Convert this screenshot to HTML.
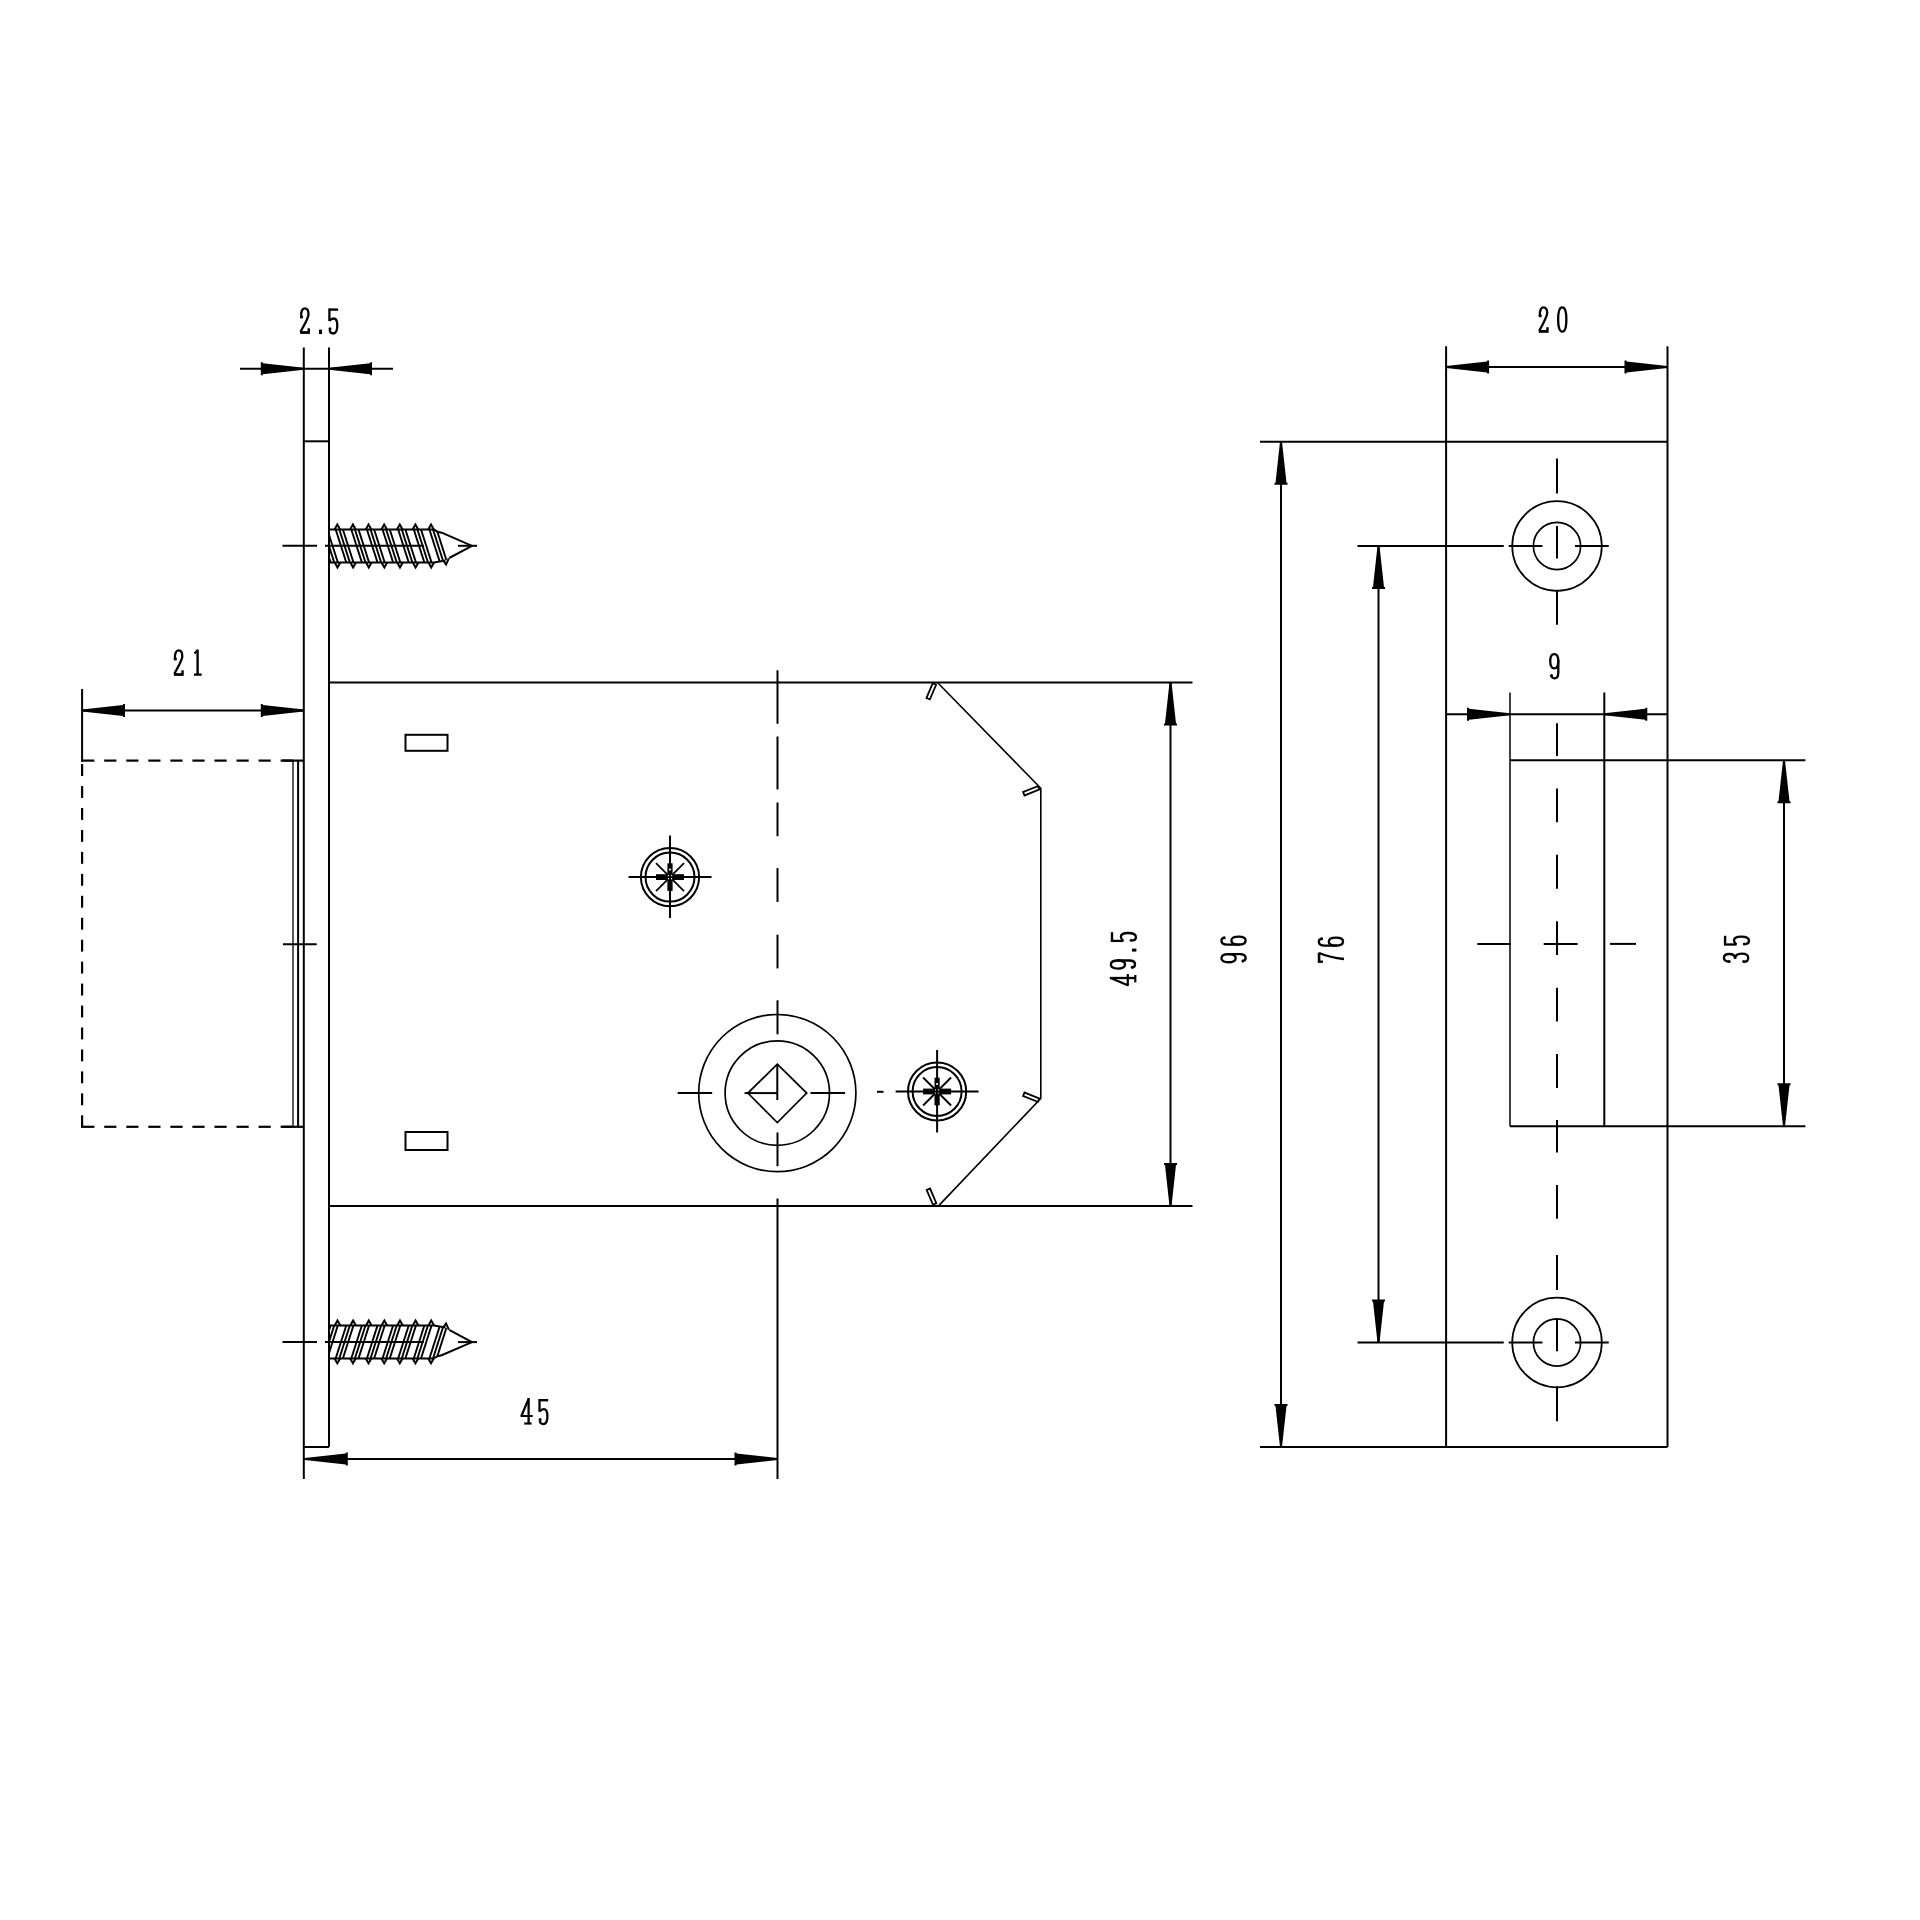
<!DOCTYPE html>
<html><head><meta charset="utf-8"><style>
html,body{margin:0;padding:0;background:#fff;font-family:"Liberation Sans", sans-serif;}
svg{display:block;}

</style></head><body>
<svg width="1920" height="1920" viewBox="0 0 1920 1920">
<rect width="1920" height="1920" fill="#fff"/>
<g stroke="#000" fill="none" stroke-linecap="butt">
<line x1="303.80" y1="347.50" x2="303.80" y2="1479.00" stroke-width="2"/>
<line x1="329.00" y1="347.50" x2="329.00" y2="1447.00" stroke-width="2"/>
<line x1="303.80" y1="441.30" x2="329.00" y2="441.30" stroke-width="2"/>
<line x1="303.80" y1="1447.00" x2="329.00" y2="1447.00" stroke-width="2"/>
<line x1="240.00" y1="368.80" x2="393.00" y2="368.80" stroke-width="2"/>
<polygon points="303.80,367.80 262.80,363.30 262.80,362.30 260.80,362.30 260.80,375.30 262.80,375.30 262.80,374.30 303.80,369.80" fill="#000" stroke="none"/>
<polygon points="329.00,369.80 370.00,374.30 370.00,375.30 372.00,375.30 372.00,362.30 370.00,362.30 370.00,363.30 329.00,367.80" fill="#000" stroke="none"/>
<line x1="329.00" y1="682.50" x2="1192.50" y2="682.50" stroke-width="2"/>
<line x1="329.00" y1="1206.10" x2="1192.50" y2="1206.10" stroke-width="2"/>
<path d="M937.5,682.5 L1040.8,788.3 L1040.8,1098.5 L938.3,1206.1" stroke-width="1.6" fill="none"/>
<rect x="-8.00" y="-1.85" width="16" height="3.7" transform="translate(931.30,691.30) rotate(-67)" stroke-width="1.8" fill="#fff"/>
<rect x="-8.00" y="-1.85" width="16" height="3.7" transform="translate(1031.20,790.80) rotate(-22)" stroke-width="1.8" fill="#fff"/>
<rect x="-8.00" y="-1.85" width="16" height="3.7" transform="translate(1031.20,1097.20) rotate(22)" stroke-width="1.8" fill="#fff"/>
<rect x="-8.00" y="-1.85" width="16" height="3.7" transform="translate(931.50,1196.60) rotate(67)" stroke-width="1.8" fill="#fff"/>
<rect x="405.50" y="734.80" width="42.00" height="16.00" stroke-width="2" fill="none"/>
<rect x="405.50" y="1132.00" width="42.00" height="18.00" stroke-width="2" fill="none"/>
<line x1="777.50" y1="670.30" x2="777.50" y2="723.75" stroke-width="2"/>
<line x1="777.50" y1="736.50" x2="777.50" y2="789.40" stroke-width="2"/>
<line x1="777.50" y1="802.50" x2="777.50" y2="836.25" stroke-width="2"/>
<line x1="777.50" y1="868.10" x2="777.50" y2="901.90" stroke-width="2"/>
<line x1="777.50" y1="934.70" x2="777.50" y2="968.40" stroke-width="2"/>
<line x1="777.50" y1="1000.30" x2="777.50" y2="1034.30" stroke-width="2"/>
<line x1="777.50" y1="1132.50" x2="777.50" y2="1166.20" stroke-width="2"/>
<line x1="777.50" y1="1198.40" x2="777.50" y2="1479.00" stroke-width="2"/>
<line x1="303.80" y1="1459.00" x2="777.50" y2="1459.00" stroke-width="2"/>
<polygon points="304.80,1460.00 345.80,1464.50 345.80,1465.50 347.80,1465.50 347.80,1452.50 345.80,1452.50 345.80,1453.50 304.80,1458.00" fill="#000" stroke="none"/>
<polygon points="777.50,1458.00 736.50,1453.50 736.50,1452.50 734.50,1452.50 734.50,1465.50 736.50,1465.50 736.50,1464.50 777.50,1460.00" fill="#000" stroke="none"/>
<line x1="1170.50" y1="682.50" x2="1170.50" y2="1206.10" stroke-width="2"/>
<polygon points="1169.50,682.50 1165.00,723.50 1164.00,723.50 1164.00,725.50 1177.00,725.50 1177.00,723.50 1176.00,723.50 1171.50,682.50" fill="#000" stroke="none"/>
<polygon points="1171.50,1206.10 1176.00,1165.10 1177.00,1165.10 1177.00,1163.10 1164.00,1163.10 1164.00,1165.10 1165.00,1165.10 1169.50,1206.10" fill="#000" stroke="none"/>
<line x1="82.10" y1="689.00" x2="82.10" y2="761.70" stroke-width="2"/>
<line x1="82.00" y1="710.50" x2="303.80" y2="710.50" stroke-width="2"/>
<polygon points="82.00,711.50 123.00,716.00 123.00,717.00 125.00,717.00 125.00,704.00 123.00,704.00 123.00,705.00 82.00,709.50" fill="#000" stroke="none"/>
<polygon points="303.80,709.50 262.80,705.00 262.80,704.00 260.80,704.00 260.80,717.00 262.80,717.00 262.80,716.00 303.80,711.50" fill="#000" stroke="none"/>
<line x1="81.00" y1="760.60" x2="94.40" y2="760.60" stroke-width="2.2"/>
<line x1="104.20" y1="760.60" x2="116.40" y2="760.60" stroke-width="2.2"/>
<line x1="126.25" y1="760.60" x2="138.45" y2="760.60" stroke-width="2.2"/>
<line x1="148.30" y1="760.60" x2="160.50" y2="760.60" stroke-width="2.2"/>
<line x1="170.35" y1="760.60" x2="182.55" y2="760.60" stroke-width="2.2"/>
<line x1="192.40" y1="760.60" x2="204.60" y2="760.60" stroke-width="2.2"/>
<line x1="214.45" y1="760.60" x2="226.65" y2="760.60" stroke-width="2.2"/>
<line x1="236.50" y1="760.60" x2="248.70" y2="760.60" stroke-width="2.2"/>
<line x1="258.55" y1="760.60" x2="270.75" y2="760.60" stroke-width="2.2"/>
<line x1="280.60" y1="760.60" x2="292.80" y2="760.60" stroke-width="2.2"/>
<line x1="282.00" y1="760.60" x2="303.80" y2="760.60" stroke-width="2.2"/>
<line x1="81.00" y1="1126.80" x2="94.40" y2="1126.80" stroke-width="2.2"/>
<line x1="104.20" y1="1126.80" x2="116.40" y2="1126.80" stroke-width="2.2"/>
<line x1="126.25" y1="1126.80" x2="138.45" y2="1126.80" stroke-width="2.2"/>
<line x1="148.30" y1="1126.80" x2="160.50" y2="1126.80" stroke-width="2.2"/>
<line x1="170.35" y1="1126.80" x2="182.55" y2="1126.80" stroke-width="2.2"/>
<line x1="192.40" y1="1126.80" x2="204.60" y2="1126.80" stroke-width="2.2"/>
<line x1="214.45" y1="1126.80" x2="226.65" y2="1126.80" stroke-width="2.2"/>
<line x1="236.50" y1="1126.80" x2="248.70" y2="1126.80" stroke-width="2.2"/>
<line x1="258.55" y1="1126.80" x2="270.75" y2="1126.80" stroke-width="2.2"/>
<line x1="280.60" y1="1126.80" x2="292.80" y2="1126.80" stroke-width="2.2"/>
<line x1="282.00" y1="1126.80" x2="303.80" y2="1126.80" stroke-width="2.2"/>
<line x1="82.10" y1="764.10" x2="82.10" y2="776.00" stroke-width="2.2"/>
<line x1="82.10" y1="786.05" x2="82.10" y2="797.95" stroke-width="2.2"/>
<line x1="82.10" y1="808.00" x2="82.10" y2="819.90" stroke-width="2.2"/>
<line x1="82.10" y1="829.95" x2="82.10" y2="841.85" stroke-width="2.2"/>
<line x1="82.10" y1="851.90" x2="82.10" y2="863.80" stroke-width="2.2"/>
<line x1="82.10" y1="873.85" x2="82.10" y2="885.75" stroke-width="2.2"/>
<line x1="82.10" y1="895.80" x2="82.10" y2="907.70" stroke-width="2.2"/>
<line x1="82.10" y1="917.75" x2="82.10" y2="929.65" stroke-width="2.2"/>
<line x1="82.10" y1="939.70" x2="82.10" y2="951.60" stroke-width="2.2"/>
<line x1="82.10" y1="961.65" x2="82.10" y2="973.55" stroke-width="2.2"/>
<line x1="82.10" y1="983.60" x2="82.10" y2="995.50" stroke-width="2.2"/>
<line x1="82.10" y1="1005.55" x2="82.10" y2="1017.45" stroke-width="2.2"/>
<line x1="82.10" y1="1027.50" x2="82.10" y2="1039.40" stroke-width="2.2"/>
<line x1="82.10" y1="1049.45" x2="82.10" y2="1061.35" stroke-width="2.2"/>
<line x1="82.10" y1="1071.40" x2="82.10" y2="1083.30" stroke-width="2.2"/>
<line x1="82.10" y1="1093.35" x2="82.10" y2="1105.25" stroke-width="2.2"/>
<line x1="82.10" y1="1115.30" x2="82.10" y2="1127.20" stroke-width="2.2"/>
<line x1="293.00" y1="760.50" x2="293.00" y2="1126.80" stroke-width="1.3"/>
<line x1="298.10" y1="760.50" x2="298.10" y2="1126.80" stroke-width="2"/>
<line x1="283.00" y1="944.20" x2="316.70" y2="944.20" stroke-width="2"/>
<circle cx="670.00" cy="877.10" r="29.10" stroke-width="2" fill="none"/>
<circle cx="670.00" cy="877.10" r="24.50" stroke-width="2" fill="none"/>
<line x1="628.50" y1="877.10" x2="711.50" y2="877.10" stroke-width="2"/>
<line x1="670.00" y1="835.60" x2="670.00" y2="918.10" stroke-width="2"/>
<line x1="656.00" y1="863.10" x2="684.00" y2="891.10" stroke-width="1.8"/>
<line x1="684.00" y1="863.10" x2="656.00" y2="891.10" stroke-width="1.8"/>
<rect x="656.00" y="874.20" width="28" height="5.8" fill="#000" stroke="none"/>
<rect x="667.40" y="863.30" width="5.2" height="27.6" fill="#000" stroke="none"/>
<circle cx="668.40" cy="875.50" r="0.7" fill="#fff" stroke="none"/>
<circle cx="671.60" cy="875.50" r="0.7" fill="#fff" stroke="none"/>
<circle cx="668.40" cy="878.70" r="0.7" fill="#fff" stroke="none"/>
<circle cx="671.60" cy="878.70" r="0.7" fill="#fff" stroke="none"/>
<circle cx="670.00" cy="869.60" r="1.1" fill="#fff" stroke="none"/>
<circle cx="937.10" cy="1091.50" r="29.10" stroke-width="2" fill="none"/>
<circle cx="937.10" cy="1091.50" r="24.50" stroke-width="2" fill="none"/>
<line x1="895.60" y1="1091.50" x2="978.60" y2="1091.50" stroke-width="2"/>
<line x1="937.10" y1="1050.00" x2="937.10" y2="1132.50" stroke-width="2"/>
<line x1="923.10" y1="1077.50" x2="951.10" y2="1105.50" stroke-width="1.8"/>
<line x1="951.10" y1="1077.50" x2="923.10" y2="1105.50" stroke-width="1.8"/>
<rect x="923.10" y="1088.60" width="28" height="5.8" fill="#000" stroke="none"/>
<rect x="934.50" y="1077.70" width="5.2" height="27.6" fill="#000" stroke="none"/>
<circle cx="935.50" cy="1089.90" r="0.7" fill="#fff" stroke="none"/>
<circle cx="938.70" cy="1089.90" r="0.7" fill="#fff" stroke="none"/>
<circle cx="935.50" cy="1093.10" r="0.7" fill="#fff" stroke="none"/>
<circle cx="938.70" cy="1093.10" r="0.7" fill="#fff" stroke="none"/>
<circle cx="937.10" cy="1084.00" r="1.1" fill="#fff" stroke="none"/>
<line x1="877.00" y1="1091.80" x2="883.50" y2="1091.80" stroke-width="2"/>
<circle cx="777.30" cy="1093.10" r="78.60" stroke-width="1.7" fill="none"/>
<circle cx="777.30" cy="1093.10" r="52.20" stroke-width="1.7" fill="none"/>
<path d="M777.3,1064.1 L806.6999999999999,1093.1 L777.3,1122.5 L747.9,1093.1 Z" stroke-width="1.7" fill="none"/>
<line x1="777.30" y1="1064.10" x2="777.30" y2="1100.10" stroke-width="2"/>
<line x1="747.90" y1="1093.10" x2="777.30" y2="1093.10" stroke-width="2"/>
<line x1="677.70" y1="1093.10" x2="712.20" y2="1093.10" stroke-width="2"/>
<line x1="744.60" y1="1093.10" x2="748.00" y2="1093.10" stroke-width="2"/>
<line x1="810.50" y1="1093.10" x2="845.00" y2="1093.10" stroke-width="2"/>
<line x1="329.00" y1="529.40" x2="433.60" y2="529.40" stroke-width="2"/>
<path d="M334.50,529.40 L337.30,524.60 L340.10,529.40" stroke-width="2" fill="none"/>
<path d="M350.12,529.40 L352.92,524.60 L355.72,529.40" stroke-width="2" fill="none"/>
<path d="M365.74,529.40 L368.54,524.60 L371.34,529.40" stroke-width="2" fill="none"/>
<path d="M381.36,529.40 L384.16,524.60 L386.96,529.40" stroke-width="2" fill="none"/>
<path d="M396.98,529.40 L399.78,524.60 L402.58,529.40" stroke-width="2" fill="none"/>
<path d="M412.60,529.40 L415.40,524.60 L418.20,529.40" stroke-width="2" fill="none"/>
<path d="M428.22,529.40 L431.02,524.60 L433.82,529.40" stroke-width="2" fill="none"/>
<path d="M433.6,529.40 L437.5,531.70 L441.7,532.70 L472,545.80" stroke-width="2" fill="none"/>
<line x1="329.00" y1="562.40" x2="434.00" y2="562.40" stroke-width="2"/>
<path d="M434,562.40 L445.4,560.50" stroke-width="2" fill="none"/>
<path d="M334.70,562.40 L337.50,567.40 L340.30,562.40" stroke-width="2" fill="none"/>
<path d="M350.32,562.40 L353.12,567.40 L355.92,562.40" stroke-width="2" fill="none"/>
<path d="M365.94,562.40 L368.74,567.40 L371.54,562.40" stroke-width="2" fill="none"/>
<path d="M381.56,562.40 L384.36,567.40 L387.16,562.40" stroke-width="2" fill="none"/>
<path d="M397.18,562.40 L399.98,567.40 L402.78,562.40" stroke-width="2" fill="none"/>
<path d="M412.80,562.40 L415.60,567.40 L418.40,562.40" stroke-width="2" fill="none"/>
<path d="M428.42,562.40 L431.22,567.40 L434.02,562.40" stroke-width="2" fill="none"/>
<path d="M443.24,560.50 L446.04,564.40 L448.84,558.30" stroke-width="2" fill="none"/>
<path d="M449.2,558.00 L472,545.80" stroke-width="2" fill="none"/>
<clipPath id="c545"><polygon points="329.0,529.40 433.6,529.40 437.5,531.70 441.7,532.70 449.2,558.00 445.4,560.50 434,562.40 329.0,562.40"/></clipPath>
<g clip-path="url(#c545)">
<line x1="319.74" y1="528.40" x2="330.94" y2="563.40" stroke-width="1.9"/>
<line x1="323.34" y1="528.40" x2="334.54" y2="563.40" stroke-width="1.9"/>
<line x1="326.94" y1="528.40" x2="338.14" y2="563.40" stroke-width="1.9"/>
<line x1="335.36" y1="528.40" x2="346.56" y2="563.40" stroke-width="1.9"/>
<line x1="338.96" y1="528.40" x2="350.16" y2="563.40" stroke-width="1.9"/>
<line x1="342.56" y1="528.40" x2="353.76" y2="563.40" stroke-width="1.9"/>
<line x1="350.98" y1="528.40" x2="362.18" y2="563.40" stroke-width="1.9"/>
<line x1="354.58" y1="528.40" x2="365.78" y2="563.40" stroke-width="1.9"/>
<line x1="358.18" y1="528.40" x2="369.38" y2="563.40" stroke-width="1.9"/>
<line x1="366.60" y1="528.40" x2="377.80" y2="563.40" stroke-width="1.9"/>
<line x1="370.20" y1="528.40" x2="381.40" y2="563.40" stroke-width="1.9"/>
<line x1="373.80" y1="528.40" x2="385.00" y2="563.40" stroke-width="1.9"/>
<line x1="382.22" y1="528.40" x2="393.42" y2="563.40" stroke-width="1.9"/>
<line x1="385.82" y1="528.40" x2="397.02" y2="563.40" stroke-width="1.9"/>
<line x1="389.42" y1="528.40" x2="400.62" y2="563.40" stroke-width="1.9"/>
<line x1="397.84" y1="528.40" x2="409.04" y2="563.40" stroke-width="1.9"/>
<line x1="401.44" y1="528.40" x2="412.64" y2="563.40" stroke-width="1.9"/>
<line x1="405.04" y1="528.40" x2="416.24" y2="563.40" stroke-width="1.9"/>
<line x1="413.46" y1="528.40" x2="424.66" y2="563.40" stroke-width="1.9"/>
<line x1="417.06" y1="528.40" x2="428.26" y2="563.40" stroke-width="1.9"/>
<line x1="420.66" y1="528.40" x2="431.86" y2="563.40" stroke-width="1.9"/>
<line x1="429.08" y1="528.40" x2="440.28" y2="563.40" stroke-width="1.9"/>
<line x1="432.68" y1="528.40" x2="443.88" y2="563.40" stroke-width="1.9"/>
<line x1="436.28" y1="528.40" x2="447.48" y2="563.40" stroke-width="1.9"/>
<line x1="444.70" y1="528.40" x2="455.90" y2="563.40" stroke-width="1.9"/>
<line x1="448.30" y1="528.40" x2="459.50" y2="563.40" stroke-width="1.9"/>
<line x1="451.90" y1="528.40" x2="463.10" y2="563.40" stroke-width="1.9"/>
</g>
<line x1="282.50" y1="545.80" x2="317.00" y2="545.80" stroke-width="2"/>
<line x1="325.00" y1="545.80" x2="423.75" y2="545.80" stroke-width="2"/>
<line x1="458.00" y1="545.80" x2="477.00" y2="545.80" stroke-width="2"/>
<line x1="329.00" y1="1358.50" x2="433.60" y2="1358.50" stroke-width="2"/>
<path d="M334.50,1358.50 L337.30,1363.30 L340.10,1358.50" stroke-width="2" fill="none"/>
<path d="M350.12,1358.50 L352.92,1363.30 L355.72,1358.50" stroke-width="2" fill="none"/>
<path d="M365.74,1358.50 L368.54,1363.30 L371.34,1358.50" stroke-width="2" fill="none"/>
<path d="M381.36,1358.50 L384.16,1363.30 L386.96,1358.50" stroke-width="2" fill="none"/>
<path d="M396.98,1358.50 L399.78,1363.30 L402.58,1358.50" stroke-width="2" fill="none"/>
<path d="M412.60,1358.50 L415.40,1363.30 L418.20,1358.50" stroke-width="2" fill="none"/>
<path d="M428.22,1358.50 L431.02,1363.30 L433.82,1358.50" stroke-width="2" fill="none"/>
<path d="M433.6,1358.50 L437.5,1356.20 L441.7,1355.20 L472,1342.10" stroke-width="2" fill="none"/>
<line x1="329.00" y1="1325.50" x2="434.00" y2="1325.50" stroke-width="2"/>
<path d="M434,1325.50 L445.4,1327.40" stroke-width="2" fill="none"/>
<path d="M334.70,1325.50 L337.50,1320.50 L340.30,1325.50" stroke-width="2" fill="none"/>
<path d="M350.32,1325.50 L353.12,1320.50 L355.92,1325.50" stroke-width="2" fill="none"/>
<path d="M365.94,1325.50 L368.74,1320.50 L371.54,1325.50" stroke-width="2" fill="none"/>
<path d="M381.56,1325.50 L384.36,1320.50 L387.16,1325.50" stroke-width="2" fill="none"/>
<path d="M397.18,1325.50 L399.98,1320.50 L402.78,1325.50" stroke-width="2" fill="none"/>
<path d="M412.80,1325.50 L415.60,1320.50 L418.40,1325.50" stroke-width="2" fill="none"/>
<path d="M428.42,1325.50 L431.22,1320.50 L434.02,1325.50" stroke-width="2" fill="none"/>
<path d="M443.24,1327.40 L446.04,1323.50 L448.84,1329.60" stroke-width="2" fill="none"/>
<path d="M449.2,1329.90 L472,1342.10" stroke-width="2" fill="none"/>
<clipPath id="c1342"><polygon points="329.0,1358.50 433.6,1358.50 437.5,1356.20 441.7,1355.20 449.2,1329.90 445.4,1327.40 434,1325.50 329.0,1325.50"/></clipPath>
<g clip-path="url(#c1342)">
<line x1="319.74" y1="1359.50" x2="330.94" y2="1324.50" stroke-width="1.9"/>
<line x1="323.34" y1="1359.50" x2="334.54" y2="1324.50" stroke-width="1.9"/>
<line x1="326.94" y1="1359.50" x2="338.14" y2="1324.50" stroke-width="1.9"/>
<line x1="335.36" y1="1359.50" x2="346.56" y2="1324.50" stroke-width="1.9"/>
<line x1="338.96" y1="1359.50" x2="350.16" y2="1324.50" stroke-width="1.9"/>
<line x1="342.56" y1="1359.50" x2="353.76" y2="1324.50" stroke-width="1.9"/>
<line x1="350.98" y1="1359.50" x2="362.18" y2="1324.50" stroke-width="1.9"/>
<line x1="354.58" y1="1359.50" x2="365.78" y2="1324.50" stroke-width="1.9"/>
<line x1="358.18" y1="1359.50" x2="369.38" y2="1324.50" stroke-width="1.9"/>
<line x1="366.60" y1="1359.50" x2="377.80" y2="1324.50" stroke-width="1.9"/>
<line x1="370.20" y1="1359.50" x2="381.40" y2="1324.50" stroke-width="1.9"/>
<line x1="373.80" y1="1359.50" x2="385.00" y2="1324.50" stroke-width="1.9"/>
<line x1="382.22" y1="1359.50" x2="393.42" y2="1324.50" stroke-width="1.9"/>
<line x1="385.82" y1="1359.50" x2="397.02" y2="1324.50" stroke-width="1.9"/>
<line x1="389.42" y1="1359.50" x2="400.62" y2="1324.50" stroke-width="1.9"/>
<line x1="397.84" y1="1359.50" x2="409.04" y2="1324.50" stroke-width="1.9"/>
<line x1="401.44" y1="1359.50" x2="412.64" y2="1324.50" stroke-width="1.9"/>
<line x1="405.04" y1="1359.50" x2="416.24" y2="1324.50" stroke-width="1.9"/>
<line x1="413.46" y1="1359.50" x2="424.66" y2="1324.50" stroke-width="1.9"/>
<line x1="417.06" y1="1359.50" x2="428.26" y2="1324.50" stroke-width="1.9"/>
<line x1="420.66" y1="1359.50" x2="431.86" y2="1324.50" stroke-width="1.9"/>
<line x1="429.08" y1="1359.50" x2="440.28" y2="1324.50" stroke-width="1.9"/>
<line x1="432.68" y1="1359.50" x2="443.88" y2="1324.50" stroke-width="1.9"/>
<line x1="436.28" y1="1359.50" x2="447.48" y2="1324.50" stroke-width="1.9"/>
<line x1="444.70" y1="1359.50" x2="455.90" y2="1324.50" stroke-width="1.9"/>
<line x1="448.30" y1="1359.50" x2="459.50" y2="1324.50" stroke-width="1.9"/>
<line x1="451.90" y1="1359.50" x2="463.10" y2="1324.50" stroke-width="1.9"/>
</g>
<line x1="282.50" y1="1342.10" x2="317.00" y2="1342.10" stroke-width="2"/>
<line x1="325.00" y1="1342.10" x2="423.75" y2="1342.10" stroke-width="2"/>
<line x1="458.00" y1="1342.10" x2="477.00" y2="1342.10" stroke-width="2"/>
<line x1="1446.10" y1="346.30" x2="1446.10" y2="1447.00" stroke-width="2"/>
<line x1="1667.50" y1="346.30" x2="1667.50" y2="1447.00" stroke-width="2"/>
<line x1="1260.00" y1="441.70" x2="1667.50" y2="441.70" stroke-width="2"/>
<line x1="1260.00" y1="1447.00" x2="1667.50" y2="1447.00" stroke-width="2"/>
<line x1="1446.10" y1="367.00" x2="1667.50" y2="367.00" stroke-width="2"/>
<polygon points="1446.10,368.00 1487.10,372.50 1487.10,373.50 1489.10,373.50 1489.10,360.50 1487.10,360.50 1487.10,361.50 1446.10,366.00" fill="#000" stroke="none"/>
<polygon points="1667.50,366.00 1626.50,361.50 1626.50,360.50 1624.50,360.50 1624.50,373.50 1626.50,373.50 1626.50,372.50 1667.50,368.00" fill="#000" stroke="none"/>
<line x1="1281.00" y1="441.70" x2="1281.00" y2="1447.00" stroke-width="2"/>
<polygon points="1280.00,441.70 1275.50,482.70 1274.50,482.70 1274.50,484.70 1287.50,484.70 1287.50,482.70 1286.50,482.70 1282.00,441.70" fill="#000" stroke="none"/>
<polygon points="1282.00,1447.00 1286.50,1406.00 1287.50,1406.00 1287.50,1404.00 1274.50,1404.00 1274.50,1406.00 1275.50,1406.00 1280.00,1447.00" fill="#000" stroke="none"/>
<line x1="1357.50" y1="546.00" x2="1503.75" y2="546.00" stroke-width="2"/>
<line x1="1357.50" y1="1342.50" x2="1503.75" y2="1342.50" stroke-width="2"/>
<line x1="1378.50" y1="546.00" x2="1378.50" y2="1342.50" stroke-width="2"/>
<polygon points="1377.50,546.00 1373.00,587.00 1372.00,587.00 1372.00,589.00 1385.00,589.00 1385.00,587.00 1384.00,587.00 1379.50,546.00" fill="#000" stroke="none"/>
<polygon points="1379.50,1342.50 1384.00,1301.50 1385.00,1301.50 1385.00,1299.50 1372.00,1299.50 1372.00,1301.50 1373.00,1301.50 1377.50,1342.50" fill="#000" stroke="none"/>
<circle cx="1557.00" cy="546.00" r="44.80" stroke-width="1.7" fill="none"/>
<circle cx="1557.00" cy="546.00" r="23.60" stroke-width="1.7" fill="none"/>
<line x1="1508.75" y1="546.00" x2="1542.50" y2="546.00" stroke-width="2"/>
<line x1="1575.00" y1="546.00" x2="1608.75" y2="546.00" stroke-width="2"/>
<line x1="1557.00" y1="526.00" x2="1557.00" y2="558.50" stroke-width="2"/>
<line x1="1557.00" y1="458.50" x2="1557.00" y2="493.50" stroke-width="2"/>
<line x1="1557.00" y1="589.70" x2="1557.00" y2="624.70" stroke-width="2"/>
<circle cx="1557.00" cy="1342.50" r="44.80" stroke-width="1.7" fill="none"/>
<circle cx="1557.00" cy="1342.50" r="23.60" stroke-width="1.7" fill="none"/>
<line x1="1508.75" y1="1342.50" x2="1542.50" y2="1342.50" stroke-width="2"/>
<line x1="1575.00" y1="1342.50" x2="1608.75" y2="1342.50" stroke-width="2"/>
<line x1="1557.00" y1="1318.50" x2="1557.00" y2="1351.30" stroke-width="2"/>
<line x1="1557.00" y1="1255.00" x2="1557.00" y2="1290.00" stroke-width="2"/>
<line x1="1557.00" y1="1386.20" x2="1557.00" y2="1421.20" stroke-width="2"/>
<line x1="1446.10" y1="714.25" x2="1667.50" y2="714.25" stroke-width="2"/>
<line x1="1510.00" y1="692.50" x2="1510.00" y2="1126.20" stroke-width="1.5"/>
<line x1="1604.30" y1="692.50" x2="1604.30" y2="1126.20" stroke-width="2"/>
<polygon points="1510.00,713.25 1469.00,708.75 1469.00,707.75 1467.00,707.75 1467.00,720.75 1469.00,720.75 1469.00,719.75 1510.00,715.25" fill="#000" stroke="none"/>
<polygon points="1604.30,715.25 1645.30,719.75 1645.30,720.75 1647.30,720.75 1647.30,707.75 1645.30,707.75 1645.30,708.75 1604.30,713.25" fill="#000" stroke="none"/>
<line x1="1510.00" y1="760.30" x2="1805.40" y2="760.30" stroke-width="2"/>
<line x1="1510.00" y1="1126.20" x2="1805.40" y2="1126.20" stroke-width="2"/>
<line x1="1784.00" y1="760.30" x2="1784.00" y2="1126.20" stroke-width="2"/>
<polygon points="1783.00,760.30 1778.50,801.30 1777.50,801.30 1777.50,803.30 1790.50,803.30 1790.50,801.30 1789.50,801.30 1785.00,760.30" fill="#000" stroke="none"/>
<polygon points="1785.00,1126.20 1789.50,1085.20 1790.50,1085.20 1790.50,1083.20 1777.50,1083.20 1777.50,1085.20 1778.50,1085.20 1783.00,1126.20" fill="#000" stroke="none"/>
<line x1="1477.30" y1="943.90" x2="1511.00" y2="943.90" stroke-width="2"/>
<line x1="1543.70" y1="943.90" x2="1577.60" y2="943.90" stroke-width="2"/>
<line x1="1610.00" y1="943.90" x2="1636.00" y2="943.90" stroke-width="2"/>
<line x1="1557.00" y1="723.30" x2="1557.00" y2="755.90" stroke-width="2"/>
<line x1="1557.00" y1="788.40" x2="1557.00" y2="822.30" stroke-width="2"/>
<line x1="1557.00" y1="854.80" x2="1557.00" y2="888.70" stroke-width="2"/>
<line x1="1557.00" y1="921.25" x2="1557.00" y2="955.10" stroke-width="2"/>
<line x1="1557.00" y1="987.70" x2="1557.00" y2="1021.50" stroke-width="2"/>
<line x1="1557.00" y1="1054.00" x2="1557.00" y2="1088.00" stroke-width="2"/>
<line x1="1557.00" y1="1120.00" x2="1557.00" y2="1152.50" stroke-width="2"/>
<line x1="1557.00" y1="1185.00" x2="1557.00" y2="1218.75" stroke-width="2"/>
</g>
<g stroke="#000" fill="none" stroke-linejoin="round" stroke-linecap="butt">
<g aria-label="2.5" role="img"><title>2.5</title>
<g transform="translate(299.20,307.30)"><path d="M2.0,9.8 C1.5,4 3.3,1.15 5.5,1.15 C7.9,1.15 9.3,3.3 9.3,6.9 C9.3,10.6 7.2,13.6 1.3,24.6" stroke-width="2.3"/><circle cx="2.3" cy="9.6" r="1.7" fill="#000" stroke="none"/><path d="M0.9,25.2 L9.7,25.2" stroke-width="2.8"/><path d="M9.55,26.5 L9.55,21.0" stroke-width="2.4"/></g>
<g transform="translate(319.00,307.30)"><rect x="0.0" y="22.3" width="3.0" height="4.4" fill="#000" stroke="none"/></g>
<g transform="translate(328.30,307.30)"><path d="M1.1,2.3 L9.8,2.3" stroke-width="2.4"/><path d="M1.1,1.1 L1.1,13.8" stroke-width="2.3"/><path d="M1.1,13.6 C2.5,11.8 3.9,11.2 5.3,11.2 C7.9,11.2 9.0,14 9.0,18.3 C9.0,23.3 7.3,26.2 4.8,26.2 C2.8,26.2 1.6,24.6 1.4,22.6" stroke-width="2.3"/><circle cx="1.7" cy="21.5" r="1.5" fill="#000" stroke="none"/></g>
</g>
<g aria-label="21" role="img"><title>21</title>
<g transform="translate(173.00,649.30)"><path d="M2.0,9.8 C1.5,4 3.3,1.15 5.5,1.15 C7.9,1.15 9.3,3.3 9.3,6.9 C9.3,10.6 7.2,13.6 1.3,24.6" stroke-width="2.3"/><circle cx="2.3" cy="9.6" r="1.7" fill="#000" stroke="none"/><path d="M0.9,25.2 L9.7,25.2" stroke-width="2.8"/><path d="M9.55,26.5 L9.55,21.0" stroke-width="2.4"/></g>
<g transform="translate(193.90,649.30)"><path d="M0.6,4.2 L3.7,0.9" stroke-width="2.1"/><path d="M3.7,0.2 L3.7,25" stroke-width="2.4"/><path d="M0.1,25.3 L7.8,25.3" stroke-width="2.3"/></g>
</g>
<g aria-label="45" role="img"><title>45</title>
<g transform="translate(520.70,1397.90)"><path d="M7.9,0.9 L0.7,18.1 L12,18.1" stroke-width="2.2"/><path d="M7.9,0.1 L7.9,25.5" stroke-width="2.3"/><path d="M3.5,25.6 L10.9,25.6" stroke-width="2.2"/></g>
<g transform="translate(538.40,1397.90)"><path d="M1.1,2.3 L9.8,2.3" stroke-width="2.4"/><path d="M1.1,1.1 L1.1,13.8" stroke-width="2.3"/><path d="M1.1,13.6 C2.5,11.8 3.9,11.2 5.3,11.2 C7.9,11.2 9.0,14 9.0,18.3 C9.0,23.3 7.3,26.2 4.8,26.2 C2.8,26.2 1.6,24.6 1.4,22.6" stroke-width="2.3"/><circle cx="1.7" cy="21.5" r="1.5" fill="#000" stroke="none"/></g>
</g>
<g aria-label="20" role="img"><title>20</title>
<g transform="translate(1537.90,306.20)"><path d="M2.0,9.8 C1.5,4 3.3,1.15 5.5,1.15 C7.9,1.15 9.3,3.3 9.3,6.9 C9.3,10.6 7.2,13.6 1.3,24.6" stroke-width="2.3"/><circle cx="2.3" cy="9.6" r="1.7" fill="#000" stroke="none"/><path d="M0.9,25.2 L9.7,25.2" stroke-width="2.8"/><path d="M9.55,26.5 L9.55,21.0" stroke-width="2.4"/></g>
<g transform="translate(1557.00,306.20)"><path d="M5.25,1.15 C8.2,1.15 9.35,6 9.35,13.25 C9.35,20.5 8.2,25.35 5.25,25.35 C2.3,25.35 1.15,20.5 1.15,13.25 C1.15,6 2.3,1.15 5.25,1.15 Z" stroke-width="2.3"/></g>
</g>
<g aria-label="9" role="img"><title>9</title>
<g transform="translate(1549.10,653.00)"><path d="M5.1,1.15 C7.6,1.15 9.2,3.6 9.2,8.2 C9.2,12.6 7.6,15.4 5.1,15.4 C2.6,15.4 1.15,12.6 1.15,8.2 C1.15,3.6 2.6,1.15 5.1,1.15 Z" stroke-width="2.3"/><path d="M9.2,7 L9.2,19.5 C9.2,23.4 7.6,25.35 5.3,25.35 C3.5,25.35 2.4,24 2.2,22" stroke-width="2.3"/><circle cx="2.4" cy="22.6" r="1.5" fill="#000" stroke="none"/></g>
</g>
<g aria-label="49.5" role="img"><title>49.5</title>
<g transform="translate(1109.70,985.90) rotate(-90)"><path d="M7.9,0.9 L0.7,18.1 L12,18.1" stroke-width="2.2"/><path d="M7.9,0.1 L7.9,25.5" stroke-width="2.3"/><path d="M3.5,25.6 L10.9,25.6" stroke-width="2.2"/></g>
<g transform="translate(1109.70,969.70) rotate(-90)"><path d="M5.1,1.15 C7.6,1.15 9.2,3.6 9.2,8.2 C9.2,12.6 7.6,15.4 5.1,15.4 C2.6,15.4 1.15,12.6 1.15,8.2 C1.15,3.6 2.6,1.15 5.1,1.15 Z" stroke-width="2.3"/><path d="M9.2,7 L9.2,19.5 C9.2,23.4 7.6,25.35 5.3,25.35 C3.5,25.35 2.4,24 2.2,22" stroke-width="2.3"/><circle cx="2.4" cy="22.6" r="1.5" fill="#000" stroke="none"/></g>
<g transform="translate(1109.70,951.60) rotate(-90)"><rect x="0.0" y="22.3" width="3.0" height="4.4" fill="#000" stroke="none"/></g>
<g transform="translate(1109.70,942.00) rotate(-90)"><path d="M1.1,2.3 L9.8,2.3" stroke-width="2.4"/><path d="M1.1,1.1 L1.1,13.8" stroke-width="2.3"/><path d="M1.1,13.6 C2.5,11.8 3.9,11.2 5.3,11.2 C7.9,11.2 9.0,14 9.0,18.3 C9.0,23.3 7.3,26.2 4.8,26.2 C2.8,26.2 1.6,24.6 1.4,22.6" stroke-width="2.3"/><circle cx="1.7" cy="21.5" r="1.5" fill="#000" stroke="none"/></g>
</g>
<g aria-label="96" role="img"><title>96</title>
<g transform="translate(1220.30,963.40) rotate(-90)"><path d="M5.1,1.15 C7.6,1.15 9.2,3.6 9.2,8.2 C9.2,12.6 7.6,15.4 5.1,15.4 C2.6,15.4 1.15,12.6 1.15,8.2 C1.15,3.6 2.6,1.15 5.1,1.15 Z" stroke-width="2.3"/><path d="M9.2,7 L9.2,19.5 C9.2,23.4 7.6,25.35 5.3,25.35 C3.5,25.35 2.4,24 2.2,22" stroke-width="2.3"/><circle cx="2.4" cy="22.6" r="1.5" fill="#000" stroke="none"/></g>
<g transform="translate(1220.30,945.90) rotate(-90)"><g transform="translate(10.5,26.5) rotate(180)"><path d="M5.1,1.15 C7.6,1.15 9.2,3.6 9.2,8.2 C9.2,12.6 7.6,15.4 5.1,15.4 C2.6,15.4 1.15,12.6 1.15,8.2 C1.15,3.6 2.6,1.15 5.1,1.15 Z" stroke-width="2.3"/><path d="M9.2,7 L9.2,19.5 C9.2,23.4 7.6,25.35 5.3,25.35 C3.5,25.35 2.4,24 2.2,22" stroke-width="2.3"/><circle cx="2.4" cy="22.6" r="1.5" fill="#000" stroke="none"/></g></g>
</g>
<g aria-label="76" role="img"><title>76</title>
<g transform="translate(1317.70,963.00) rotate(-90)"><path d="M0.2,1.35 L10.3,1.35" stroke-width="2.6"/><path d="M1.3,1.3 L1.3,5.2" stroke-width="2.4"/><path d="M10.0,1.3 C7.6,7 5.2,14 4.0,26.3" stroke-width="2.3"/></g>
<g transform="translate(1317.70,946.90) rotate(-90)"><g transform="translate(10.5,26.5) rotate(180)"><path d="M5.1,1.15 C7.6,1.15 9.2,3.6 9.2,8.2 C9.2,12.6 7.6,15.4 5.1,15.4 C2.6,15.4 1.15,12.6 1.15,8.2 C1.15,3.6 2.6,1.15 5.1,1.15 Z" stroke-width="2.3"/><path d="M9.2,7 L9.2,19.5 C9.2,23.4 7.6,25.35 5.3,25.35 C3.5,25.35 2.4,24 2.2,22" stroke-width="2.3"/><circle cx="2.4" cy="22.6" r="1.5" fill="#000" stroke="none"/></g></g>
</g>
<g aria-label="35" role="img"><title>35</title>
<g transform="translate(1722.80,963.00) rotate(-90)"><path d="M1.3,6.5 C1.3,3 3,1.15 5.2,1.15 C7.6,1.15 9.0,3 9.0,6.4 C9.0,10 7.2,12.3 4.3,12.3" stroke-width="2.3"/><path d="M4.3,12.3 C7.6,12.3 9.4,14.8 9.4,19 C9.4,23.5 7.6,25.4 5.0,25.4 C2.6,25.4 1.1,23.6 1.1,21" stroke-width="2.3"/><circle cx="1.5" cy="20.9" r="1.5" fill="#000" stroke="none"/><circle cx="1.6" cy="6.4" r="1.5" fill="#000" stroke="none"/></g>
<g transform="translate(1722.80,945.60) rotate(-90)"><path d="M1.1,2.3 L9.8,2.3" stroke-width="2.4"/><path d="M1.1,1.1 L1.1,13.8" stroke-width="2.3"/><path d="M1.1,13.6 C2.5,11.8 3.9,11.2 5.3,11.2 C7.9,11.2 9.0,14 9.0,18.3 C9.0,23.3 7.3,26.2 4.8,26.2 C2.8,26.2 1.6,24.6 1.4,22.6" stroke-width="2.3"/><circle cx="1.7" cy="21.5" r="1.5" fill="#000" stroke="none"/></g>
</g>
</g>
</svg>
</body></html>
